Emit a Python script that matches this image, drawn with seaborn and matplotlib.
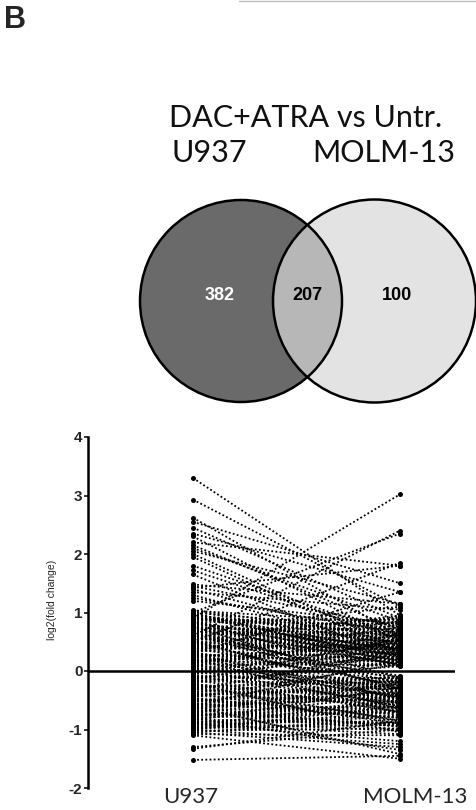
import numpy as np
import pandas as pd
import matplotlib
matplotlib.use("Agg")
import matplotlib.pyplot as plt
from matplotlib.patches import Circle
import seaborn as sns

# Venn counts: U937 only, shared, MOLM-13 only
venn_counts = [382, 207, 100]
cell_lines = ["U937", "MOLM-13"]

# log2(fold change) of the shared genes
u937 = [
    3.30, 2.93, 2.62, 2.55, 2.45, 2.35, 2.30, 2.20, 2.15, 2.10,
    2.05, 2.00, 1.95, 1.80, 1.72, 1.65, 1.45, 1.40, 1.35, 1.30,
    1.25, 1.20, 0.90, 0.60, 1.00, 0.50, 1.42, 0.30, 1.48, 0.70,
    -1.30, -1.33, -1.52, -0.90, -1.00, -1.05, -1.10, -0.60, -0.80, -0.20,
    0.02, 0.05, 0.08, 0.10, 0.12, 0.15, 0.17, 0.19, 0.21, 0.24,
    0.26, 0.28, 0.30, 0.33, 0.35, 0.37, 0.40, 0.42, 0.44, 0.47,
    0.49, 0.51, 0.54, 0.56, 0.58, 0.61, 0.63, 0.65, 0.68, 0.70,
    0.72, 0.75, 0.77, 0.79, 0.82, 0.84, 0.86, 0.89, 0.91, 0.93,
    0.96, 0.98, 1.00, 1.02, 1.04, 0.03, 0.07, 0.11, 0.14, 0.18,
    0.22, 0.25, 0.29, 0.32, 0.36, 0.39, 0.43, 0.46, 0.50, 0.53,
    0.57, 0.60, 0.64, 0.67, 0.71, 0.74, 0.78, 0.81, 0.85, 0.88,
    0.92, 0.95, 0.99, 1.03, 0.06, 0.13, 0.27, 0.38, 0.45, 0.52,
    0.62, 0.69, 0.76, 0.83, 0.90, 0.97, 0.16, 0.31, 0.48, 0.59,
    -0.02, -0.05, -0.08, -0.10, -0.13, -0.15, -0.18, -0.20, -0.23, -0.25,
    -0.28, -0.30, -0.33, -0.35, -0.38, -0.40, -0.43, -0.45, -0.48, -0.50,
    -0.53, -0.55, -0.58, -0.60, -0.63, -0.65, -0.68, -0.70, -0.73, -0.75,
    -0.78, -0.80, -0.83, -0.85, -0.88, -0.90, -0.93, -0.95, -0.98, -1.00,
    -1.02, -1.05, -1.08, -0.04, -0.11, -0.17, -0.22, -0.27, -0.32, -0.37,
    -0.42, -0.47, -0.52, -0.57, -0.62, -0.67, -0.72, -0.77, -0.82, -0.87,
    -0.92, -0.97, -0.07, -0.16, -0.26, -0.36, -0.46, -0.56, -0.66, -0.76,
    -0.86, -0.96, -0.31, -0.41, -0.51, -0.61, -0.71,
]
molm13 = [
    0.95, 1.10, 0.60, 1.50, 0.90, 1.35, 0.50, 1.80, 0.70, 0.85,
    1.15, 0.40, 0.30, 0.60, 0.55, 0.20, 0.75, 0.45, 1.05, 0.35,
    0.65, 0.80, 3.02, 2.40, 2.35, 1.85, 1.80, 1.35, 1.15, 1.10,
    -1.00, -0.85, -1.45, -1.20, -1.25, -1.30, -1.50, -1.42, -1.35, -1.05,
    0.35, -0.20, 0.62, -0.45, 0.10, 0.48, -0.30, 0.25, 0.75, -0.10,
    0.40, 0.15, -0.55, 0.58, 0.20, 0.85, -0.25, 0.45, 0.30, 0.12,
    0.68, -0.40, 0.52, 0.22, 0.90, 0.35, -0.15, 0.60, 0.42, 0.18,
    0.72, 0.28, -0.35, 0.55, 0.38, 0.80, 0.15, 0.48, 0.65, 0.25,
    0.50, 0.32, 0.70, 0.45, 0.58, -0.60, 0.20, -0.35, 0.55, 0.08,
    -0.72, 0.30, 0.10, -0.18, 0.65, 0.42, -0.08, 0.78, 0.28, -0.50,
    0.38, 0.92, 0.12, -0.22, 0.50, 0.62, 0.25, 0.40, -0.12, 0.88,
    0.35, 0.60, 0.18, 0.82, -0.42, 0.52, -0.65, 0.70, 0.15, 0.95,
    -0.30, 0.45, 0.10, 0.30, 0.75, 0.20, 0.62, -0.48, 0.36, 0.85,
    -0.30, 0.25, -0.55, -0.12, 0.40, -0.70, -0.20, 0.15, -0.45, -0.85,
    -0.10, -0.62, 0.30, -0.38, -0.90, -0.25, -0.52, 0.12, -0.75, -0.40,
    -0.15, -0.80, -0.48, 0.20, -0.95, -0.35, -0.60, -0.22, -1.00, -0.55,
    -0.42, -0.70, -0.88, -0.28, -0.65, -1.08, -0.50, -0.78, -0.92, -0.60,
    -0.98, -0.82, -1.10, 0.50, -0.40, 0.08, -0.65, -0.18, 0.35, -0.58,
    -0.28, -0.85, -0.12, -0.72, -0.45, -0.95, -0.32, -0.68, -0.50, -1.02,
    -0.75, -0.88, -0.25, 0.55, -0.48, -0.10, -0.80, -0.38, -0.20, -0.62,
    -0.90, -0.70, -0.55, -0.30, -0.68, -0.42, -0.92,
]

n = len(u937)
df = pd.DataFrame({
    "gene": list(range(n)) * 2,
    "line": [cell_lines[0]] * n + [cell_lines[1]] * n,
    "lfc": u937 + molm13,
})

sns.set_style("white")
plt.rcParams["font.family"] = ["Liberation Sans", "DejaVu Sans"]

W, H = 477, 810
fig = plt.figure(figsize=(W / 100, H / 100), dpi=100)

# pixel-space overlay for the venn + headings
ov = fig.add_axes([0, 0, 1, 1])
ov.set_xlim(0, W)
ov.set_ylim(H, 0)
ov.axis("off")

# thin rule left over from the panel above
ov.plot([239, 477], [0.6, 0.6], color="#bdbdbd", lw=1)

ov.text(4, 28, "B", fontsize=22, fontweight="bold", va="baseline")

ov.text(306, 127, "DAC+ATRA vs Untr.", fontsize=22, family="Lato",
        ha="center", va="baseline", color="#111111")
ov.text(172, 162, "U937", fontsize=22, family="Lato", ha="left", va="baseline",
        color="#111111")
ov.text(455, 162, "MOLM-13", fontsize=22, family="Lato", ha="right", va="baseline",
        color="#111111")

left = Circle((241, 301), 101, facecolor="#6a6a6a", edgecolor="none")
right = Circle((374.5, 301), 101.5, facecolor="#e3e3e3", edgecolor="none")
ov.add_patch(left)
ov.add_patch(right)
inter = Circle((241, 301), 101, facecolor="#b7b7b7", edgecolor="none")
ov.add_patch(inter)
inter.set_clip_path(right)
ov.add_patch(Circle((241, 301), 101, fill=False, edgecolor="black", lw=1.8))
ov.add_patch(Circle((374.5, 301), 101.5, fill=False, edgecolor="black", lw=1.8))

for (x, col), cnt in zip([(220, "white"), (307, "black"), (397, "black")], venn_counts):
    ov.text(x, 296, str(cnt), fontsize=13, fontweight="bold", color=col,
            ha="center", va="center")

# paired plot
ax = fig.add_axes([88 / W, 22 / H, 367 / W, 351 / H])
ax.patch.set_alpha(0)
sns.lineplot(data=df, x="line", y="lfc", units="gene", estimator=None,
             sort=False, color="black", lw=1.3, linestyle=(0, (1, 1.3)),
             marker="o", markersize=3.6, markeredgewidth=0, ax=ax)
ax.axhline(0, color="black", lw=1.8, zorder=5)

ax.set_xlim(-0.507, 1.266)
ax.set_ylim(-2, 4)
ax.set_yticks(range(-2, 5))
ax.set_yticklabels([str(v) for v in range(-2, 5)], fontsize=11, fontweight="bold")
ax.tick_params(axis="y", direction="out", length=3, width=1.3, pad=1, left=True)
ax.set_xticks([])
ax.set_xlabel("")
ax.set_ylabel("log2(fold change)", fontsize=7.5)
ax.yaxis.set_label_coords(-0.085, 0.536)
for s in ["top", "right", "bottom"]:
    ax.spines[s].set_visible(False)
ax.spines["left"].set_linewidth(1.8)
ax.spines["left"].set_color("black")

# category names under the columns
ov.text(191, 803, cell_lines[0], fontsize=16, family="Lato", ha="center", va="baseline")
ov.text(415, 803, cell_lines[1], fontsize=16, family="Lato", ha="center", va="baseline")

fig.savefig("out.png", dpi=100)
